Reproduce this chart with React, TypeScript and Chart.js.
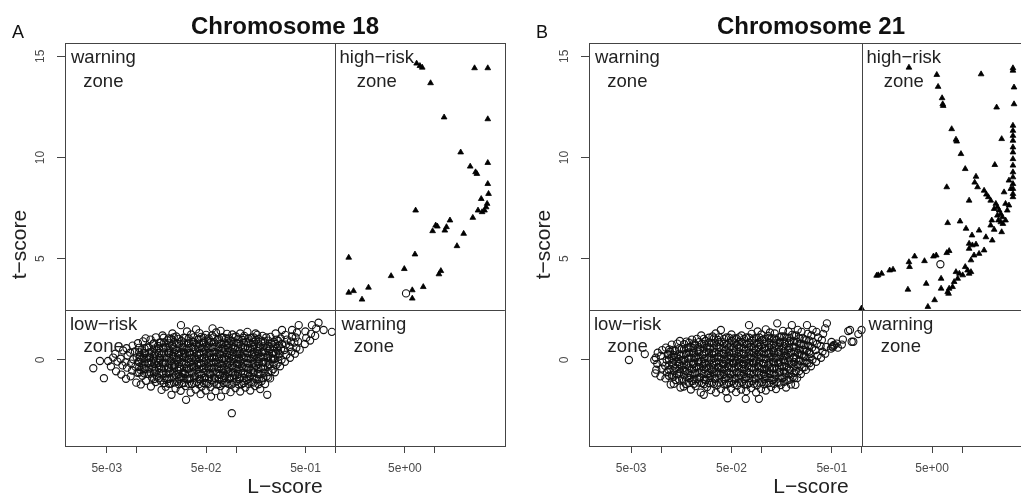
import React, { useEffect, useRef } from "react";
import { Chart, registerables } from "chart.js";

Chart.register(...registerables);

const FONT = "'Liberation Sans', Arial, Helvetica, sans-serif";

// axis ticks
const xTickValues = [0.005, 0.01, 0.05, 0.1, 0.5, 1, 5, 10];
const xTickLabels = ["5e-03", "", "5e-02", "", "5e-01", "", "5e+00", ""];
const yTickValues = [0, 5, 10, 15];
const yTickLabels = ["0", "5", "10", "15"];

// zone thresholds
const L_THRESHOLD = 1;
const T_THRESHOLD = 2.47;

// Chromosome 18 – low-risk (circles), outer part of the cloud
const chr18Low: [number, number][] = [
  [0.00366,-0.41],[0.00468,-0.9],[0.00427,-0.05],[0.00516,-0.05],
  [0.0055,-0.32],[0.0058,0.12],
  [0.0062,-0.56],[0.0064,-0.08],[0.0061,0.31],
  [0.0070,-0.72],[0.0072,-0.27],[0.0069,0.06],[0.0073,0.47],
  [0.0078,-0.93],[0.0080,-0.38],[0.0077,-0.12],[0.0081,0.22],[0.0079,0.58],
  [0.0087,-0.81],[0.0090,-0.52],[0.0088,-0.18],[0.0092,0.03],[0.0086,0.36],[0.0091,0.71],
  [0.0099,-1.12],[0.0102,-0.63],[0.0097,-0.33],[0.0104,-0.08],[0.0100,0.13],[0.0096,0.42],[0.0103,0.83],
  [0.0110,-1.21],[0.0114,-0.78],[0.0109,-0.49],[0.0115,-0.23],[0.0111,0.02],[0.0108,0.24],[0.0113,0.51],[0.0116,0.92],
  [0.0124,-1.03],[0.0128,-0.68],[0.0122,-0.44],[0.0129,-0.17],[0.0126,0.07],[0.0121,0.33],[0.0127,0.62],[0.0123,1.07],
  [0.0139,-1.31],[0.0143,-0.88],[0.0137,-0.61],[0.0145,-0.33],[0.0140,-0.08],[0.0136,0.17],[0.0142,0.41],[0.0146,0.77],[0.0138,1.01],
  [0.0155,-1.09],[0.0160,-0.82],[0.0153,-0.53],[0.0162,-0.28],[0.0157,-0.04],[0.0151,0.22],[0.0159,0.47],[0.0164,0.69],[0.0156,1.12],
  [0.0178,-1.48],[0.0174,-1.02],[0.0181,-0.72],[0.0176,-0.43],[0.0183,-0.18],[0.0172,0.01],[0.0179,0.27],[0.0185,0.56],[0.0175,0.86],[0.0182,1.21],
  [0.0196,-1.32],[0.0203,-0.94],[0.0198,-0.66],[0.0206,-0.38],[0.0194,-0.13],[0.0201,0.12],[0.0208,0.34],[0.0197,0.62],[0.0204,0.97],
  [0.0224,-1.72],[0.0219,-1.18],[0.0228,-0.86],[0.0216,-0.56],[0.0226,-0.29],[0.0221,-0.06],[0.0230,0.21],[0.0218,0.44],[0.0227,0.72],[0.0222,1.04],[0.0229,1.31],
  [0.0246,-1.41],[0.0255,-1.06],[0.0249,-0.74],[0.0258,-0.51],[0.0243,-0.24],[0.0252,0.01],[0.0260,0.26],[0.0247,0.49],[0.0256,0.79],[0.0250,1.16],
  [0.0277,-1.52],[0.0287,-1.14],[0.0280,-0.84],[0.0290,-0.61],[0.0274,-0.36],[0.0284,-0.11],[0.0292,0.16],[0.0279,0.39],[0.0288,0.66],[0.0282,0.94],[0.0279,1.72],
  [0.0314,-1.97],[0.0310,-1.29],[0.0322,-0.96],[0.0306,-0.69],[0.0319,-0.44],[0.0313,-0.21],[0.0325,0.04],[0.0308,0.31],[0.0318,0.54],[0.0327,0.81],[0.0311,1.09],[0.0321,1.41],
  [0.0349,-1.61],[0.0360,-1.19],[0.0346,-0.91],[0.0357,-0.59],[0.0365,-0.34],[0.0351,-0.09],[0.0362,0.11],[0.0344,0.36],[0.0356,0.61],[0.0367,0.89],[0.0353,1.26],
  [0.0392,-1.46],[0.0404,-1.09],[0.0387,-0.81],[0.0399,-0.49],[0.0410,-0.26],[0.0395,0.01],[0.0406,0.24],[0.0389,0.51],[0.0401,0.76],[0.0412,0.99],[0.0396,1.51],
  [0.0440,-1.69],[0.0452,-1.31],[0.0436,-0.94],[0.0448,-0.71],[0.0459,-0.44],[0.0443,-0.16],[0.0455,0.09],[0.0438,0.36],[0.0450,0.59],[0.0462,0.86],[0.0445,1.14],[0.0427,1.33],
  [0.0495,-1.51],[0.0508,-1.14],[0.0490,-0.86],[0.0503,-0.54],[0.0516,-0.31],[0.0498,-0.04],[0.0511,0.19],[0.0493,0.46],[0.0506,0.69],[0.0519,0.96],[0.0500,1.24],
  [0.0560,-1.81],[0.0553,-1.34],[0.0570,-1.01],[0.0549,-0.69],[0.0565,-0.41],[0.0557,-0.14],[0.0574,0.11],[0.0551,0.34],[0.0567,0.61],[0.0559,0.89],[0.0572,1.21],[0.0580,1.56],
  [0.0621,-1.54],[0.0640,-1.21],[0.0615,-0.89],[0.0633,-0.61],[0.0648,-0.34],[0.0626,-0.11],[0.0643,0.16],[0.0618,0.39],[0.0637,0.66],[0.0652,0.99],[0.0629,1.36],
  [0.0705,-1.81],[0.0697,-1.29],[0.0718,-1.01],[0.0690,-0.74],[0.0712,-0.46],[0.0701,-0.19],[0.0724,0.06],[0.0694,0.29],[0.0715,0.56],[0.0708,0.79],[0.0720,1.11],[0.0699,1.44],
  [0.0782,-1.49],[0.0805,-1.11],[0.0776,-0.79],[0.0798,-0.51],[0.0815,-0.24],[0.0788,0.01],[0.0809,0.26],[0.0779,0.49],[0.0801,0.74],[0.0792,1.06],[0.0812,1.29],
  [0.0906,-2.63],[0.0880,-1.59],[0.0902,-1.21],[0.0872,-0.89],[0.0896,-0.61],[0.0914,-0.29],[0.0885,-0.06],[0.0908,0.21],[0.0876,0.44],[0.0899,0.71],[0.0890,0.94],[0.0917,1.26],
  [0.0985,-1.39],[0.1013,-1.06],[0.0978,-0.74],[0.1005,-0.46],[0.1024,-0.21],[0.0992,0.06],[0.1017,0.29],[0.0981,0.56],[0.1008,0.84],[0.0996,1.16],
  [0.110,-1.56],[0.114,-1.19],[0.109,-0.86],[0.113,-0.54],[0.115,-0.31],[0.111,-0.04],[0.114,0.21],[0.108,0.44],[0.112,0.71],[0.116,0.99],[0.110,1.31],
  [0.124,-1.36],[0.128,-0.99],[0.122,-0.71],[0.127,-0.39],[0.130,-0.16],[0.125,0.11],[0.129,0.34],[0.123,0.61],[0.126,0.89],[0.130,1.39],[0.121,1.19],
  [0.139,-1.51],[0.143,-1.09],[0.137,-0.79],[0.142,-0.51],[0.146,-0.19],[0.140,0.06],[0.144,0.29],[0.138,0.56],[0.141,0.81],[0.145,1.09],[0.157,1.31],
  [0.155,-1.29],[0.161,-0.96],[0.153,-0.61],[0.159,-0.29],[0.164,-0.06],[0.156,0.21],[0.162,0.44],[0.152,0.71],[0.158,0.99],[0.163,1.24],
  [0.175,-1.44],[0.181,-1.04],[0.172,-0.71],[0.178,-0.39],[0.184,-0.11],[0.176,0.16],[0.182,0.39],[0.171,0.66],[0.179,0.91],[0.185,1.19],
  [0.206,-1.72],[0.196,-1.19],[0.203,-0.81],[0.193,-0.44],[0.199,-0.16],[0.207,0.11],[0.197,0.36],[0.204,0.59],[0.195,0.86],[0.201,1.11],
  [0.220,-0.91],[0.228,-0.54],[0.217,-0.21],[0.225,0.06],[0.231,0.31],[0.219,0.54],[0.227,0.81],[0.222,1.14],
  [0.246,-0.61],[0.255,-0.24],[0.243,0.04],[0.252,0.31],[0.259,0.56],[0.248,0.79],[0.256,1.01],[0.250,1.31],
  [0.277,-0.31],[0.287,0.01],[0.274,0.29],[0.284,0.56],[0.290,0.79],[0.281,1.06],[0.290,1.48],
  [0.310,-0.09],[0.321,0.26],[0.306,0.49],[0.318,0.76],[0.325,1.01],[0.313,1.24],
  [0.349,0.11],[0.360,0.41],[0.345,0.64],[0.356,0.91],[0.366,1.16],[0.366,1.48],
  [0.391,0.31],[0.404,0.59],[0.386,0.86],[0.398,1.11],[0.410,1.36],
  [0.427,1.72],[0.437,0.51],[0.420,0.91],
  [0.492,0.79],[0.508,1.09],[0.498,1.41],
  [0.556,0.96],[0.568,1.29],[0.580,1.72],
  [0.625,1.19],[0.640,1.56],[0.676,1.84],[0.76,1.48],[0.92,1.39],
  [5.13,3.29],
];

// Chromosome 18 – low-risk (circles), dense core of the cloud
const chr18LowCore: [number, number][] = [
  [0.0106,-0.62],[0.0106,-0.35],[0.0105,-0.1],[0.0107,0.14],[0.0106,0.38],[0.0105,0.6],
  [0.0119,-0.66],[0.0118,-0.39],[0.0120,-0.13],[0.0119,0.1],[0.0118,0.34],[0.0120,0.57],
  [0.0133,-0.7],[0.0134,-0.42],[0.0132,-0.15],[0.0133,0.11],[0.0134,0.37],[0.0132,0.62],
  [0.0150,-0.94],[0.0149,-0.67],[0.0151,-0.43],[0.0150,-0.18],[0.0149,0.07],[0.0151,0.32],[0.0150,0.56],[0.0149,0.83],
  [0.0168,-0.9],[0.0169,-0.64],[0.0167,-0.39],[0.0168,-0.14],[0.0169,0.1],[0.0167,0.35],[0.0168,0.6],[0.0169,0.86],
  [0.0188,-1.14],[0.0190,-0.89],[0.0186,-0.63],[0.0189,-0.38],[0.0187,-0.13],[0.0190,0.12],[0.0188,0.37],[0.0186,0.62],[0.0189,0.86],[0.0187,1.1],
  [0.0211,-1.18],[0.0213,-0.93],[0.0209,-0.67],[0.0212,-0.42],[0.0210,-0.17],[0.0213,0.08],[0.0211,0.33],[0.0209,0.58],[0.0212,0.82],[0.0210,1.06],
  [0.0237,-1.12],[0.0239,-0.87],[0.0235,-0.62],[0.0238,-0.37],[0.0236,-0.12],[0.0239,0.13],[0.0237,0.38],[0.0235,0.63],[0.0238,0.88],[0.0236,1.12],
  [0.0266,-1.2],[0.0268,-0.95],[0.0264,-0.69],[0.0267,-0.44],[0.0265,-0.19],[0.0268,0.06],[0.0266,0.31],[0.0264,0.56],[0.0267,0.8],[0.0265,1.04],
  [0.0299,-1.14],[0.0302,-0.89],[0.0297,-0.63],[0.0300,-0.38],[0.0298,-0.13],[0.0301,0.12],[0.0299,0.37],[0.0296,0.62],[0.0300,0.86],[0.0298,1.1],
  [0.0335,-1.18],[0.0338,-0.93],[0.0333,-0.67],[0.0336,-0.42],[0.0334,-0.17],[0.0337,0.08],[0.0335,0.33],[0.0332,0.58],[0.0336,0.82],[0.0334,1.06],
  [0.0376,-1.12],[0.0379,-0.87],[0.0373,-0.62],[0.0377,-0.37],[0.0375,-0.12],[0.0378,0.13],[0.0376,0.38],[0.0373,0.63],[0.0377,0.88],[0.0375,1.12],
  [0.0422,-1.2],[0.0425,-0.95],[0.0419,-0.69],[0.0423,-0.44],[0.0421,-0.19],[0.0424,0.06],[0.0422,0.31],[0.0419,0.56],[0.0423,0.8],[0.0421,1.04],
  [0.0473,-1.14],[0.0477,-0.89],[0.0470,-0.63],[0.0474,-0.38],[0.0472,-0.13],[0.0476,0.12],[0.0473,0.37],[0.0470,0.62],[0.0475,0.86],[0.0472,1.1],
  [0.0531,-1.18],[0.0535,-0.93],[0.0527,-0.67],[0.0532,-0.42],[0.0530,-0.17],[0.0534,0.08],[0.0531,0.33],[0.0527,0.58],[0.0533,0.82],[0.0530,1.06],
  [0.0596,-1.12],[0.0600,-0.87],[0.0592,-0.62],[0.0597,-0.37],[0.0595,-0.12],[0.0599,0.13],[0.0596,0.38],[0.0592,0.63],[0.0598,0.88],[0.0595,1.12],
  [0.0668,-1.2],[0.0673,-0.95],[0.0664,-0.69],[0.0669,-0.44],[0.0667,-0.19],[0.0672,0.06],[0.0668,0.31],[0.0664,0.56],[0.0670,0.8],[0.0667,1.04],
  [0.0750,-1.14],[0.0755,-0.89],[0.0745,-0.63],[0.0751,-0.38],[0.0749,-0.13],[0.0754,0.12],[0.0750,0.37],[0.0745,0.62],[0.0752,0.86],[0.0749,1.1],
  [0.0841,-1.18],[0.0847,-0.93],[0.0836,-0.67],[0.0842,-0.42],[0.0840,-0.17],[0.0846,0.08],[0.0841,0.33],[0.0836,0.58],[0.0843,0.82],[0.0840,1.06],
  [0.0944,-1.12],[0.0950,-0.87],[0.0938,-0.62],[0.0945,-0.37],[0.0943,-0.12],[0.0949,0.13],[0.0944,0.38],[0.0938,0.63],[0.0946,0.88],[0.0943,1.12],
  [0.106,-1.2],[0.1067,-0.95],[0.1053,-0.69],[0.1061,-0.44],[0.1059,-0.19],[0.1066,0.06],[0.106,0.31],[0.1053,0.56],[0.1062,0.8],[0.1059,1.04],
  [0.119,-1.14],[0.1198,-0.89],[0.1182,-0.63],[0.1191,-0.38],[0.1189,-0.13],[0.1197,0.12],[0.119,0.37],[0.1182,0.62],[0.1193,0.86],[0.1189,1.1],
  [0.133,-1.18],[0.1339,-0.93],[0.1322,-0.67],[0.1332,-0.42],[0.1329,-0.17],[0.1338,0.08],[0.133,0.33],[0.1322,0.58],[0.1333,0.82],[0.1329,1.06],
  [0.150,-1.12],[0.151,-0.87],[0.149,-0.62],[0.1502,-0.37],[0.1499,-0.12],[0.1509,0.13],[0.150,0.38],[0.1491,0.63],[0.1504,0.88],[0.1499,1.12],
  [0.168,-1.2],[0.1691,-0.95],[0.167,-0.69],[0.1682,-0.44],[0.1679,-0.19],[0.169,0.06],[0.168,0.31],[0.167,0.56],[0.1684,0.8],[0.1679,1.04],
  [0.188,-0.9],[0.1892,-0.63],[0.1869,-0.37],[0.1883,-0.1],[0.1879,0.16],[0.1891,0.42],[0.188,0.67],[0.1869,0.93],
  [0.211,-0.86],[0.2123,-0.6],[0.2098,-0.33],[0.2113,-0.07],[0.2109,0.19],[0.2122,0.45],[0.211,0.7],[0.2098,0.96],
  [0.237,-0.45],[0.2385,-0.18],[0.2357,0.08],[0.2373,0.35],[0.2369,0.62],[0.2384,0.9],
  [0.266,-0.12],[0.2676,0.16],[0.2646,0.43],[0.2663,0.69],[0.2659,0.94],
];

// Chromosome 18 – high-risk (triangles)
const chr18High: [number, number][] = [
  [7.47,14.45],[7.08,14.53],[6.56,14.65],[25.1,14.42],[34.1,14.42],[9.06,13.68],
  [12.4,11.99],[34.1,11.9],[18.2,10.26],[34.1,9.74],[22.7,9.56],[25.7,9.28],[26.5,9.2],
  [34.1,8.7],[34.7,8.21],[29.3,7.96],[33.6,7.72],[32.8,7.55],[27.2,7.39],[29.9,7.31],
  [31.6,7.39],[24.1,7.03],[6.41,7.39],[14.2,6.9],[10.2,6.65],[10.6,6.6],[9.5,6.37],
  [12.6,6.4],[13.1,6.57],[19.5,6.24],[16.7,5.63],[1.36,5.06],[6.31,5.22],[11.5,4.4],
  [11.0,4.24],[4.93,4.5],[3.63,4.15],[2.15,3.58],[7.65,3.61],[1.36,3.33],[1.52,3.41],
  [1.85,2.99],[5.93,3.45],[5.93,3.04],
];

// Chromosome 21 – low-risk (circles), outer part of the cloud
const chr21Low: [number, number][] = [
  [0.00475,0.0],[0.00684,0.29],[0.0085,0.0],[0.0087,-0.66],[0.0133,-1.18],[0.0167,-1.31],
  [0.0089,-0.48],[0.0091,-0.19],[0.0088,0.11],[0.0092,0.36],
  [0.0098,-0.81],[0.0101,-0.42],[0.0103,-0.12],[0.0099,0.21],[0.0102,0.49],
  [0.0110,-0.91],[0.0114,-0.61],[0.0109,-0.29],[0.0113,0.01],[0.0116,0.26],[0.0111,0.61],
  [0.0124,-1.21],[0.0128,-0.76],[0.0123,-0.44],[0.0129,-0.14],[0.0126,0.11],[0.0122,0.41],[0.0127,0.76],
  [0.0139,-0.99],[0.0143,-0.71],[0.0138,-0.39],[0.0145,-0.11],[0.0141,0.16],[0.0137,0.44],[0.0144,0.81],
  [0.0155,-1.36],[0.0161,-0.96],[0.0154,-0.59],[0.0159,-0.31],[0.0163,-0.04],[0.0156,0.21],[0.0160,0.54],[0.0153,0.94],
  [0.0175,-1.19],[0.0181,-0.86],[0.0174,-0.54],[0.0179,-0.24],[0.0184,0.04],[0.0176,0.31],[0.0182,0.59],[0.0178,0.91],
  [0.0197,-1.46],[0.0204,-1.04],[0.0195,-0.76],[0.0201,-0.44],[0.0207,-0.21],[0.0199,0.11],[0.0205,0.36],[0.0196,0.64],[0.0202,1.01],
  [0.0220,-1.29],[0.0228,-0.94],[0.0218,-0.66],[0.0225,-0.34],[0.0231,-0.09],[0.0222,0.16],[0.0229,0.44],[0.0217,0.76],[0.0226,1.04],
  [0.0247,-1.61],[0.0255,-1.14],[0.0244,-0.86],[0.0252,-0.54],[0.0259,-0.29],[0.0249,-0.06],[0.0256,0.24],[0.0243,0.51],[0.0253,0.79],[0.0250,1.21],
  [0.0265,-1.72],[0.0286,-1.34],[0.0277,-0.99],[0.0290,-0.71],[0.0281,-0.39],[0.0274,-0.16],[0.0288,0.11],[0.0279,0.39],[0.0285,0.66],[0.0276,0.94],
  [0.0311,-1.49],[0.0322,-1.11],[0.0308,-0.79],[0.0318,-0.51],[0.0326,-0.24],[0.0313,0.01],[0.0320,0.29],[0.0306,0.56],[0.0316,0.84],[0.0324,1.16],
  [0.0350,-1.61],[0.0361,-1.24],[0.0346,-0.91],[0.0357,-0.59],[0.0366,-0.36],[0.0352,-0.09],[0.0363,0.16],[0.0345,0.39],[0.0355,0.71],[0.0365,0.99],[0.0348,1.31],
  [0.0392,-1.44],[0.0404,-1.06],[0.0388,-0.74],[0.0399,-0.46],[0.0410,-0.19],[0.0395,0.04],[0.0407,0.31],[0.0390,0.59],[0.0401,0.91],[0.0392,1.48],
  [0.0458,-1.89],[0.0441,-1.56],[0.0453,-1.19],[0.0437,-0.86],[0.0449,-0.54],[0.0460,-0.31],[0.0444,-0.04],[0.0456,0.21],[0.0439,0.49],[0.0451,0.76],[0.0446,1.11],
  [0.0495,-1.41],[0.0508,-1.04],[0.0491,-0.71],[0.0503,-0.39],[0.0516,-0.16],[0.0498,0.11],[0.0511,0.34],[0.0493,0.66],[0.0505,0.94],[0.0500,1.26],
  [0.0556,-1.59],[0.0570,-1.26],[0.0550,-0.89],[0.0564,-0.61],[0.0576,-0.29],[0.0559,-0.04],[0.0573,0.19],[0.0553,0.46],[0.0567,0.74],[0.0561,1.06],
  [0.0624,-1.46],[0.0640,-1.09],[0.0618,-0.76],[0.0633,-0.44],[0.0648,-0.21],[0.0628,0.06],[0.0644,0.29],[0.0620,0.61],[0.0636,0.89],[0.0630,1.21],
  [0.0694,-1.92],[0.0702,-1.54],[0.0719,-1.21],[0.0696,-0.84],[0.0712,-0.56],[0.0726,-0.29],[0.0705,-0.04],[0.0722,0.19],[0.0698,0.51],[0.0715,0.79],[0.0708,1.11],[0.0748,1.72],
  [0.0785,-1.39],[0.0806,-1.04],[0.0778,-0.71],[0.0799,-0.39],[0.0816,-0.14],[0.0789,0.11],[0.0810,0.36],[0.0781,0.64],[0.0802,0.96],[0.0795,1.29],
  [0.0880,-1.61],[0.0903,-1.24],[0.0873,-0.91],[0.0896,-0.59],[0.0915,-0.31],[0.0885,-0.04],[0.0908,0.26],[0.0876,0.49],[0.0899,0.81],[0.0890,1.09],[0.0912,1.41],
  [0.0939,-1.92],[0.0985,-1.44],[0.1012,-1.09],[0.0979,-0.74],[0.1004,-0.44],[0.1023,-0.16],[0.0992,0.11],[0.1016,0.39],[0.0982,0.71],[0.1008,0.99],[0.0996,1.26],
  [0.110,-1.51],[0.114,-1.14],[0.109,-0.79],[0.113,-0.51],[0.116,-0.24],[0.111,0.04],[0.115,0.31],[0.108,0.59],[0.112,0.91],[0.116,1.19],[0.110,1.51],
  [0.124,-1.34],[0.128,-0.99],[0.122,-0.69],[0.127,-0.41],[0.130,-0.09],[0.125,0.16],[0.129,0.46],[0.123,0.74],[0.126,1.06],[0.121,1.36],
  [0.139,-1.44],[0.144,-1.09],[0.137,-0.76],[0.142,-0.44],[0.146,-0.14],[0.140,0.11],[0.145,0.39],[0.138,0.71],[0.141,0.99],[0.135,1.31],[0.143,1.81],
  [0.155,-1.24],[0.161,-0.89],[0.153,-0.59],[0.159,-0.31],[0.164,0.01],[0.156,0.24],[0.162,0.56],[0.152,0.84],[0.158,1.16],[0.163,1.44],
  [0.175,-1.36],[0.181,-0.99],[0.172,-0.66],[0.178,-0.34],[0.184,-0.04],[0.176,0.21],[0.182,0.49],[0.171,0.81],[0.179,1.09],[0.185,1.41],
  [0.196,-1.21],[0.204,-0.84],[0.193,-0.51],[0.199,-0.19],[0.207,0.09],[0.197,0.36],[0.203,0.64],[0.194,0.96],[0.201,1.24],[0.200,1.72],
  [0.217,-1.23],[0.226,-0.89],[0.219,-0.56],[0.228,-0.24],[0.222,0.06],[0.230,0.34],[0.218,0.61],[0.225,0.89],[0.221,1.21],[0.229,1.49],
  [0.246,-0.69],[0.255,-0.36],[0.243,-0.04],[0.252,0.26],[0.259,0.49],[0.248,0.81],[0.256,1.09],[0.250,1.39],
  [0.276,-0.49],[0.286,-0.14],[0.273,0.16],[0.283,0.44],[0.290,0.71],[0.279,0.99],[0.288,1.29],[0.283,1.72],
  [0.310,-0.31],[0.321,0.01],[0.306,0.29],[0.318,0.61],[0.325,0.89],[0.313,1.21],[0.322,1.49],
  [0.349,-0.09],[0.361,0.21],[0.345,0.49],[0.356,0.79],[0.366,1.11],[0.352,1.39],
  [0.391,0.11],[0.404,0.41],[0.387,0.69],[0.398,0.99],[0.410,1.29],
  [0.430,0.31],[0.440,0.64],[0.430,1.56],[0.447,1.81],
  [0.490,0.56],[0.505,0.66],[0.520,0.70],[0.512,0.62],[0.528,0.75],[0.497,0.89],
  [0.560,0.81],[0.575,0.61],[0.630,0.76],[0.645,1.01],
  [0.73,1.43],[0.76,1.48],[0.79,0.9],[0.82,0.9],[0.92,1.28],[0.99,1.48],
  [6.05,4.73],
];

// Chromosome 21 – low-risk (circles), dense core of the cloud
const chr21LowCore: [number, number][] = [
  [0.0119,-0.78],[0.0118,-0.5],[0.0120,-0.24],[0.0119,0.02],[0.0118,0.28],[0.0120,0.52],
  [0.0133,-0.82],[0.0134,-0.55],[0.0132,-0.28],[0.0133,-0.02],[0.0134,0.24],[0.0132,0.5],
  [0.0150,-0.97],[0.0149,-0.7],[0.0151,-0.45],[0.0150,-0.2],[0.0149,0.05],[0.0151,0.3],[0.0150,0.56],
  [0.0168,-1.02],[0.0169,-0.75],[0.0167,-0.49],[0.0168,-0.23],[0.0169,0.02],[0.0167,0.27],[0.0168,0.52],[0.0169,0.78],
  [0.0188,-1.14],[0.0190,-0.89],[0.0186,-0.63],[0.0189,-0.38],[0.0187,-0.13],[0.0190,0.12],[0.0188,0.37],[0.0186,0.62],[0.0189,0.86],
  [0.0211,-1.18],[0.0213,-0.93],[0.0209,-0.67],[0.0212,-0.42],[0.0210,-0.17],[0.0213,0.08],[0.0211,0.33],[0.0209,0.58],[0.0212,0.82],
  [0.0237,-1.12],[0.0239,-0.87],[0.0235,-0.62],[0.0238,-0.37],[0.0236,-0.12],[0.0239,0.13],[0.0237,0.38],[0.0235,0.63],[0.0238,0.88],
  [0.0266,-1.2],[0.0268,-0.95],[0.0264,-0.69],[0.0267,-0.44],[0.0265,-0.19],[0.0268,0.06],[0.0266,0.31],[0.0264,0.56],[0.0267,0.8],[0.0265,1.04],
  [0.0299,-1.14],[0.0302,-0.89],[0.0297,-0.63],[0.0300,-0.38],[0.0298,-0.13],[0.0301,0.12],[0.0299,0.37],[0.0296,0.62],[0.0300,0.86],[0.0298,1.1],
  [0.0335,-1.18],[0.0338,-0.93],[0.0333,-0.67],[0.0336,-0.42],[0.0334,-0.17],[0.0337,0.08],[0.0335,0.33],[0.0332,0.58],[0.0336,0.82],[0.0334,1.06],
  [0.0376,-1.12],[0.0379,-0.87],[0.0373,-0.62],[0.0377,-0.37],[0.0375,-0.12],[0.0378,0.13],[0.0376,0.38],[0.0373,0.63],[0.0377,0.88],[0.0375,1.12],
  [0.0422,-1.2],[0.0425,-0.95],[0.0419,-0.69],[0.0423,-0.44],[0.0421,-0.19],[0.0424,0.06],[0.0422,0.31],[0.0419,0.56],[0.0423,0.8],[0.0421,1.04],
  [0.0473,-1.14],[0.0477,-0.89],[0.0470,-0.63],[0.0474,-0.38],[0.0472,-0.13],[0.0476,0.12],[0.0473,0.37],[0.0470,0.62],[0.0475,0.86],[0.0472,1.1],
  [0.0531,-1.18],[0.0535,-0.93],[0.0527,-0.67],[0.0532,-0.42],[0.0530,-0.17],[0.0534,0.08],[0.0531,0.33],[0.0527,0.58],[0.0533,0.82],[0.0530,1.06],
  [0.0596,-1.12],[0.0600,-0.87],[0.0592,-0.62],[0.0597,-0.37],[0.0595,-0.12],[0.0599,0.13],[0.0596,0.38],[0.0592,0.63],[0.0598,0.88],[0.0595,1.12],
  [0.0668,-1.2],[0.0673,-0.95],[0.0664,-0.69],[0.0669,-0.44],[0.0667,-0.19],[0.0672,0.06],[0.0668,0.31],[0.0664,0.56],[0.0670,0.8],[0.0667,1.04],
  [0.0750,-1.14],[0.0755,-0.89],[0.0745,-0.63],[0.0751,-0.38],[0.0749,-0.13],[0.0754,0.12],[0.0750,0.37],[0.0745,0.62],[0.0752,0.86],[0.0749,1.1],
  [0.0841,-1.18],[0.0847,-0.93],[0.0836,-0.67],[0.0842,-0.42],[0.0840,-0.17],[0.0846,0.08],[0.0841,0.33],[0.0836,0.58],[0.0843,0.82],[0.0840,1.06],
  [0.0944,-1.12],[0.0950,-0.87],[0.0938,-0.62],[0.0945,-0.37],[0.0943,-0.12],[0.0949,0.13],[0.0944,0.38],[0.0938,0.63],[0.0946,0.88],[0.0943,1.12],
  [0.106,-1.2],[0.1067,-0.95],[0.1053,-0.69],[0.1061,-0.44],[0.1059,-0.19],[0.1066,0.06],[0.106,0.31],[0.1053,0.56],[0.1062,0.8],[0.1059,1.04],
  [0.119,-1.14],[0.1198,-0.89],[0.1182,-0.63],[0.1191,-0.38],[0.1189,-0.13],[0.1197,0.12],[0.119,0.37],[0.1182,0.62],[0.1193,0.86],[0.1189,1.1],
  [0.133,-1.18],[0.1339,-0.93],[0.1322,-0.67],[0.1332,-0.42],[0.1329,-0.17],[0.1338,0.08],[0.133,0.33],[0.1322,0.58],[0.1333,0.82],[0.1329,1.06],
  [0.150,-1.12],[0.151,-0.87],[0.149,-0.62],[0.1502,-0.37],[0.1499,-0.12],[0.1509,0.13],[0.150,0.38],[0.1491,0.63],[0.1504,0.88],[0.1499,1.12],
  [0.168,-1.08],[0.1691,-0.83],[0.167,-0.57],[0.1682,-0.32],[0.1679,-0.07],[0.169,0.18],[0.168,0.43],[0.167,0.68],[0.1684,0.92],[0.1679,1.16],
  [0.188,-0.98],[0.1892,-0.71],[0.1869,-0.45],[0.1883,-0.18],[0.1879,0.08],[0.1891,0.34],[0.188,0.59],[0.1869,0.85],[0.1885,1.1],
  [0.211,-0.9],[0.2123,-0.64],[0.2098,-0.37],[0.2113,-0.11],[0.2109,0.15],[0.2122,0.41],[0.211,0.66],[0.2098,0.92],[0.2115,1.18],
  [0.237,-0.55],[0.2385,-0.28],[0.2357,-0.02],[0.2373,0.25],[0.2369,0.52],[0.2384,0.8],[0.2372,1.06],
  [0.266,-0.36],[0.2676,-0.08],[0.2646,0.2],[0.2663,0.47],[0.2659,0.74],[0.2671,1.02],
  [0.299,-0.16],[0.3006,0.12],[0.2975,0.4],[0.2993,0.68],[0.2989,0.96],
];

// Chromosome 21 – high-risk (triangles)
const chr21High: [number, number][] = [
  [2.94,14.45],[5.57,14.09],[5.74,13.5],[6.29,12.94],[6.38,12.64],[6.45,12.56],[15.4,14.12],
  [32,14.42],[32,14.3],[32.8,13.47],[32.8,12.64],[22,12.48],[7.84,11.41],[8.65,10.89],[8.8,10.8],[24.7,10.92],
  [32,11.58],[32,11.33],[32,11.08],[32,10.84],[32,10.51],[32,10.26],[32,9.93],[32,9.61],[32,9.28],[32,9.03],[32,8.7],[32,8.46],[32,8.21],[32,8.05],
  [9.7,10.18],[10.7,9.44],[21.1,9.64],[7.0,8.54],[13.7,9.06],[13.3,8.77],[14.2,8.54],[16.5,8.37],[17.4,8.18],[18.2,8.05],[19.2,7.88],
  [26.1,8.29],[29.2,8.87],[30.5,8.46],[11.7,7.88],
  [21.6,7.72],[22.4,7.55],[23.3,7.39],[24.2,7.22],[25.1,7.06],[22.9,6.9],[24.2,6.81],[25.4,6.73],[27.0,6.9],[22.4,7.14],
  [20.8,7.47],[28.1,7.39],[29.2,7.64],[27.0,7.72],[19.7,6.9],[19.2,6.65],[24.7,6.32],[20.8,6.44],
  [7.15,6.77],[9.5,6.85],[10.9,6.49],[12.5,6.16],[14.7,6.4],[17.2,6.07],[19.9,5.91],[11.7,5.75],[12.6,5.67],[13.7,5.71],
  [11.7,5.5],[16.5,5.42],[14.7,5.25],[3.35,5.12],[4.2,4.89],[5.16,5.12],[5.5,5.17],[7.0,5.29],[7.4,5.39],[2.94,4.84],[2.98,4.6],
  [12.2,4.93],[13.1,5.17],[10.7,4.6],[11.3,4.43],[11.7,4.27],[12.2,4.35],[8.65,4.35],[9.35,4.27],[10.1,4.19],[9.0,4.02],[8.3,3.86],
  [8.0,3.61],[7.4,3.53],[7.15,3.36],[7.3,3.28],[6.15,4.02],[6.15,3.53],[4.37,3.77],[5.3,2.96],[4.54,2.63],[2.87,3.48],
  [1.45,4.19],[1.57,4.27],[1.89,4.43],[2.04,4.47],[1.4,4.17],[0.99,2.55],
];

type PanelProps = {
  letter: string;
  title: string;
  low: [number, number][];
  high: [number, number][];
  left: number;
  width: number;
  padLeft: number;
  padRight: number;
};

function Panel({ letter, title, low, high, left, width, padLeft, padRight }: PanelProps) {
  const ref = useRef<HTMLCanvasElement | null>(null);

  useEffect(() => {
    const canvas = ref.current;
    if (!canvas) return;

    const decor = {
      id: "decor",
      afterDraw(chart: any) {
        const { ctx, chartArea: a, scales } = chart;
        const xs = scales.x;
        const ys = scales.y;
        const vx = Math.round(xs.getPixelForValue(L_THRESHOLD)) + 0.5;
        const hy = Math.round(ys.getPixelForValue(T_THRESHOLD)) + 0.5;
        ctx.save();
        ctx.strokeStyle = "#444";
        ctx.lineWidth = 1;
        ctx.strokeRect(Math.round(a.left) + 0.5, Math.round(a.top) + 0.5, Math.round(a.right - a.left), Math.round(a.bottom - a.top));
        ctx.beginPath();
        ctx.moveTo(vx, a.top);
        ctx.lineTo(vx, a.bottom);
        ctx.moveTo(a.left, hy);
        ctx.lineTo(a.right, hy);
        ctx.stroke();

        // y tick labels, rotated like R
        ctx.fillStyle = "#4a4a4a";
        ctx.font = `12px ${FONT}`;
        ctx.textAlign = "center";
        ctx.textBaseline = "middle";
        yTickValues.forEach((v, i) => {
          const py = ys.getPixelForValue(v);
          ctx.save();
          ctx.translate(a.left - 24, py);
          ctx.rotate(-Math.PI / 2);
          ctx.fillText(yTickLabels[i], 0, 0);
          ctx.restore();
        });

        // zone labels
        ctx.fillStyle = "#222";
        ctx.font = `18.5px ${FONT}`;
        ctx.textBaseline = "alphabetic";
        const zone = (first: string, x0: number, base: number, gap: number) => {
          const w = ctx.measureText(first).width;
          ctx.textAlign = "left";
          ctx.fillText(first, x0, base);
          ctx.textAlign = "center";
          ctx.fillText("zone", x0 + w / 2, base + gap);
        };
        zone("warning", a.left + 6, a.top + 20, 24);
        zone("high\u2212risk", vx + 4, a.top + 20, 24);
        zone("low\u2212risk", a.left + 5, hy + 19, 22);
        zone("warning", vx + 6, hy + 19, 22);

        // title and panel letter
        ctx.fillStyle = "#111";
        ctx.font = `bold 24px ${FONT}`;
        ctx.textAlign = "center";
        ctx.textBaseline = "middle";
        ctx.fillText(title, (a.left + a.right) / 2, 27);
        ctx.font = `18px ${FONT}`;
        ctx.textAlign = "left";
        ctx.textBaseline = "alphabetic";
        ctx.fillText(letter, a.left - 53, 38);
        ctx.restore();
      },
    };

    const chart = new Chart(canvas, {
      type: "scatter",
      data: {
        datasets: [
          {
            data: low.map(([x, y]) => ({ x, y })),
            pointStyle: "circle",
            pointRadius: 3.6,
            pointBorderWidth: 1.1,
            borderColor: "#111",
            backgroundColor: "rgba(0,0,0,0)",
          },
          {
            data: high.map(([x, y]) => ({ x, y })),
            pointStyle: "triangle",
            pointRadius: 3.3,
            pointBorderWidth: 0.8,
            borderColor: "#000",
            backgroundColor: "#000",
          },
        ],
      },
      options: {
        animation: false,
        responsive: false,
        events: [],
        layout: { padding: { top: 43, left: padLeft, right: padRight, bottom: 0 } },
        plugins: { legend: { display: false }, tooltip: { enabled: false }, title: { display: false } },
        scales: {
          x: {
            type: "logarithmic",
            min: 0.0019,
            max: 50.7,
            afterBuildTicks: (s: any) => {
              s.ticks = xTickValues.map((v) => ({ value: v }));
            },
            afterFit: (s: any) => {
              s.height = 50;
            },
            ticks: {
              autoSkip: false,
              maxRotation: 0,
              minRotation: 0,
              padding: 8,
              color: "#4a4a4a",
              font: { family: FONT, size: 12 },
              callback: (v: any) => {
                const i = xTickValues.findIndex((t) => Math.abs(t - Number(v)) / t < 1e-6);
                return i >= 0 ? xTickLabels[i] : "";
              },
            },
            grid: { drawOnChartArea: false, drawTicks: true, tickLength: 7, color: "#444", lineWidth: 1 },
            border: { display: false },
            title: {
              display: true,
              text: "L\u2212score",
              color: "#222",
              font: { family: FONT, size: 21, lineHeight: 0.8 },
              padding: 0,
            },
          },
          y: {
            type: "linear",
            min: -4.25,
            max: 15.66,
            afterBuildTicks: (s: any) => {
              s.ticks = yTickValues.map((v) => ({ value: v }));
            },
            afterFit: (s: any) => {
              s.width = 65;
            },
            ticks: { display: false },
            grid: { drawOnChartArea: false, drawTicks: true, tickLength: 8, color: "#444", lineWidth: 1 },
            border: { display: false },
            title: {
              display: true,
              text: "t\u2212score",
              color: "#222",
              font: { family: FONT, size: 21, lineHeight: 1 },
              padding: { top: 10, bottom: 0 },
            },
          },
        },
      } as any,
      plugins: [decor],
    });

    return () => chart.destroy();
  }, [letter, title, low, high, padLeft, padRight]);

  return (
    <canvas
      ref={ref}
      width={width}
      height={496}
      style={{ position: "absolute", left, top: 0, width, height: 496 }}
    />
  );
}

const chr18Circles = [...chr18Low, ...chr18LowCore];
const chr21Circles = [...chr21Low, ...chr21LowCore];

export default function App() {
  return (
    <div
      style={{
        position: "fixed",
        left: 0,
        top: 0,
        width: 1021,
        height: 496,
        overflow: "hidden",
        background: "#fff",
      }}
    >
      <Panel letter="A" title="Chromosome 18" low={chr18Circles} high={chr18High} left={0} width={510} padLeft={0} padRight={2} />
      <Panel letter="B" title="Chromosome 21" low={chr21Circles} high={chr21High} left={510} width={540} padLeft={14} padRight={17} />
    </div>
  );
}
